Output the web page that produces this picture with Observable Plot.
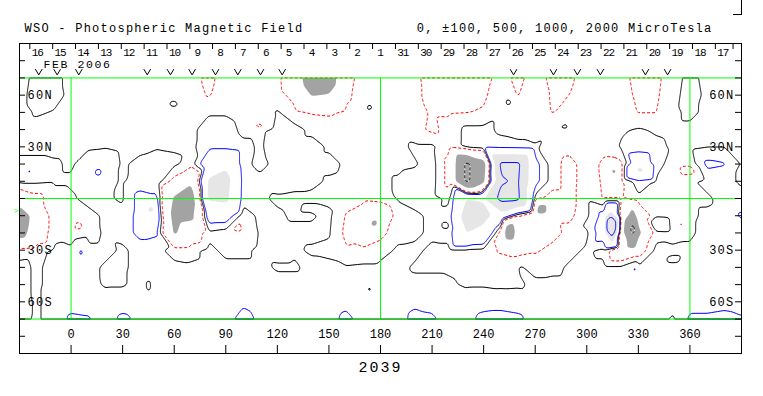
<!DOCTYPE html>
<html><head><meta charset="utf-8">
<script src="https://cdn.jsdelivr.net/npm/d3@7"></script>
<script src="https://cdn.jsdelivr.net/npm/@observablehq/plot@0.6"></script>
<style>
html,body{margin:0;padding:0;background:#fff;}
#wrap{position:relative;width:763px;height:396px;overflow:hidden;}
#wrap svg{display:block;}
.wide text{letter-spacing:1.25px;}
.feb text{letter-spacing:1.6px;}
.days text{letter-spacing:-1.1px;}
.cr text{letter-spacing:2px;}
#corner{position:absolute;left:733px;top:0;width:8px;height:14px;border-right:1px solid #000;border-bottom:1px solid #000;}
</style></head><body><div id="wrap"><div id="corner"></div></div>
<script>
// ---- texts ----
const titleText = "WSO - Photospheric Magnetic Field";
const unitsText = "0, \u00b1100, 500, 1000, 2000 MicroTesla";
const monthText = "FEB 2006";
const rotationText = "2039";

// ---- axes ----
const frameLon = [-30, 390];
const frameLat = [-90, 90];
const lonTicks = [0, 30, 60, 90, 120, 150, 180, 210, 240, 270, 300, 330, 360];
const latTicks = [-80, -70, -60, -50, -40, -30, -20, -10, 0, 10, 20, 30, 40, 50, 60, 70, 80];
const latLabelVals = [60, 30, -30, -60];
const latLabelText = ["60N", "30N", "30S", "60S"];
const greenLats = [70, 0, -70];
const greenLons = [0, 180, 360];
const b0Lat = -7;

// day-of-month strip (label centres, Carrington longitude)
const dayLabels = ["16","15","14","13","12","11","10","9","8","7","6","5","4","3","2","1",
                   "31","30","29","28","27","26","25","24","23","22","21","20","19","18","17"];
const dayLons = [-19.7,-6.4,6.9,20.2,33.5,46.8,60.1,73.4,86.6,99.9,113.2,126.5,139.8,153.1,166.4,179.7,
                 193.0,206.3,219.6,232.9,246.2,259.5,272.7,286.0,299.3,312.6,325.9,339.2,352.5,365.8,379.1];
// observation markers ("v")
const obsLons = [-18.8,-8.1,4.5,44.3,57.8,70.4,84.0,97.0,110.2,122.8,257.4,280.6,294.5,307.9,334.1,347.0];

// ---- field samples (microTesla), rows by latitude, columns by longitude ----
const lons = [-30,-20,-10,0,10,20,30,40,50,60,70,80,90,100,110,120,130,140,150,160,
              170,180,190,200,210,220,230,240,250,260,270,280,290,300,310,320,330,340,350,360,370,380,390];
const lats = [70,60,50,40,30,20,10,0,-10,-20,-30,-40,-50,-60,-70];
const f70 = [-40,30,30,-30,-40,-40,-40,-40,-40,-50, -60,-130,-50,-30,-40,-60,-250,-800,-750,-150,
             -50,-40,-50,-80,-140,-150,-150,-140,-60,-130, -50,-130,-120,-50,-40,-70,-130,-130,-40,30, -30,-40,-40];
const f60 = [-30,40,30,-20,-40,-40,-40,-40,-30,-20, -50,-110,-40,-30,-40,-50,-150,-520,-480,-130,
             -40,-40,-50,-80,-130,-140,-130,-120,-30,-105, -50,-110,-100,-40,-40,-60,-120,-120,-30,40, -20,-30,-30];
const f50 = [-30,10,-5,-30,-40,-40,-40,-40,-30,-20, -40,-10,-10,-40,-40,10,-60,-110,-120,-70,
             -30,-40,-40,-70,-110,-110,-105,-90,-20,-40, -50,-105,-70,-40,-40,-40,-105,-105,-20,20, -20,-30,-30];
const f40 = [-30,-30,-30,-30,-30,-30,-30,-20,-20,-20, -20,40,40,-20,-20,40,30,-20,-30,-20,
             -20,-20,-40,-70,-120,-70,30,30,-20,-40, -40,-10,-10,-30,-30,-10,10,-10,-20,-20, -20,-20,-20];
const f30 = [-20,-20,-20,-20,-10,-5,-20,-20,-5,-10, -20,60,60,20,-10,40,30,30,-10,-20,
             -20,-20,-30,20,20,-60,30,60,40,30, 10,-30,-50,-30,-60,10,40,20,-10,-20, -5,-5,-10];
const f20 = [20,20,10,-10,40,60,-10,20,30,20, -40,250,420,20,-20,20,20,20,20,-10,
             -10,-20,-20,-10,40,-150,-1100,-700,1100,1100, 150,-50,-150,-30,-130,-130,250,40,-40,-60, 130,110,-10];
const f10 = [20,20,10,10,30,30,-10,40,60,-150, -450,550,650,50,20,30,30,20,-10,-20,
             -20,-20,10,40,40,-150,-1100,-600,950,1050, 150,-50,-150,-30,-120,-120,60,-10,-20,-10, 20,20,-10];
const f0 = [-250,-150,-30,-10,20,10,-10,150,120,-550, -700,550,600,40,10,-10,-20,-20,-20,-60,
            -80,-60,10,40,30,-20,500,450,1150,1100, -50,-150,-150,-20,-110,-110,-20,-10,-20,-10, -10,20,20];
const fm10 = [-800,-300,-20,-20,-20,10,20,150,200,-650, -600,200,200,-50,20,10,-10,-10,20,-110,
              -150,-250,-50,-20,20,30,700,650,300,-100, -300,-130,-130,-20,150,-200,-300,-20,-30,-10, 10,20,120];
const fm20 = [-700,-250,-20,-60,-30,10,20,150,120,-550, -250,-20,-50,-80,10,20,20,20,10,-130,
              -200,-150,-20,-20,20,30,500,350,-150,-300, -200,-150,-60,-20,200,-300,-600,-30,-20,-10, 20,20,20];
const fm30 = [-30,-20,10,20,20,20,-10,20,20,-30, -20,20,-20,-20,20,30,10,-10,-20,-90,
              -80,-30,10,20,-20,-20,-20,-30,-120,-150, -120,-60,-20,10,-20,-300,-200,20,10,10, 20,20,20];
const fm40 = [20,-10,20,20,20,-10,-10,20,20,20, 10,20,20,20,20,-10,-10,20,20,10,
              20,20,20,-10,-10,-10,-20,-20,-20,-10, -30,-20,10,20,20,20,20,20,20,20, 20,20,20];
const fm50 = [20,-10,20,30,30,-10,-10,30,30,30, 30,30,30,30,30,30,30,30,30,30,
              30,30,30,20,20,10,-10,-10,-20,-15, 20,20,20,30,30,30,30,30,30,30, 30,30,30];
const fm60 = [30,-10,30,60,60,40,60,50,40,40, 40,40,50,80,50,40,40,40,40,70,
              40,40,50,80,60,40,40,60,70,60, 40,40,40,50,40,40,40,40,30,60, 60,70,60];
const fm70 = [20,-10,30,120,110,60,120,80,50,50, 50,50,60,140,80,50,50,50,60,130,
              60,50,60,130,120,50,70,130,130,120, 60,50,50,105,60,50,50,30,-10,120, 120,130,110];
const fieldRows = [f70,f60,f50,f40,f30,f20,f10,f0,fm10,fm20,fm30,fm40,fm50,fm60,fm70];
// small features between grid nodes: [lon, lat, value]
const spots = [[16,15,130],[-24,16,120],[6,-31,120],[47,-7,650],[87,4,1020],[4,-16,-140],[97,-17,-150],
  [110,41,-120],[177,-14,-650],[255,-18,-850],[273,-7,-850],[316,16,-620],[331,17,620],
  [314,-16,2100],[314,-8,550],[315,-25,600],[327,-18,-1200],[327,-8,-600],[327,-28,-700],
  [340,-15,120],[329,-40,120],[355,-15,-120],[359,17,-170],[60,55,10],[173,52,15],[255,57,15],[288,42,15],
  [138,-5,15],[220,-16,-15],[261,-40,10],[300,-15,20],[350,-36,-10],[45,-52,-10],[173,-52,-10]];

const samples = [];
fieldRows.forEach((row, j) => row.forEach((v, i) => samples.push({lon: lons[i], lat: lats[j], v})));
spots.forEach(([lon, lat, v]) => samples.push({lon, lat, v}));

const LIGHT = "#e6e6e6", DARK = "#a3a3a3", GREEN = "#00ff00";
const cb = {x: "lon", y: "lat", interpolate: "barycentric", x1: -30, x2: 390, y1: -70, y2: 70, pixelSize: 1, blur: 1};
const neg = d => -d.v;

const days = dayLabels.map((t, i) => ({t, lon: dayLons[i]}));
const dayTicks = dayLons.map(l => l - 4.3).concat([dayLons[dayLons.length - 1] + 6]);

// "v" shaped observation marker symbol
const vSymbol = {
  draw(context, size) {
    const r = Math.sqrt(size / Math.PI);
    context.moveTo(-r, -r * 0.85);
    context.lineTo(0, r * 0.85);
    context.lineTo(r, -r * 0.85);
  }
};

const chart = Plot.plot({
  width: 763, height: 396,
  marginTop: 43, marginBottom: 43, marginLeft: 19, marginRight: 22,
  x: {domain: frameLon, axis: null},
  y: {domain: frameLat, axis: null},
  style: {fontFamily: "'Liberation Mono', monospace", fontSize: "12px", background: "#fff", color: "#000", overflow: "visible"},
  marks: [
    Plot.contour(samples, {...cb, value: "v", thresholds: [500], fill: LIGHT, stroke: "none"}),
    Plot.contour(samples, {...cb, value: neg, thresholds: [500], fill: DARK, stroke: "none"}),
    Plot.contour(samples, {...cb, value: neg, thresholds: [1000], fill: "none", stroke: "#fff"}),
    Plot.contour(samples, {...cb, value: neg, thresholds: [1000], fill: "none", stroke: "#000", strokeDasharray: "3,2"}),
    Plot.contour(samples, {...cb, value: neg, thresholds: [100], fill: "none", stroke: "#ff0000", strokeDasharray: "3,2"}),
    Plot.contour(samples, {...cb, value: "v", thresholds: [100, 1000, 2000], fill: "none", stroke: "#0000ff"}),
    Plot.contour(samples, {...cb, value: "v", thresholds: [0], fill: "none", stroke: "#000"}),
    Plot.ruleY(greenLats, {stroke: GREEN}),
    Plot.ruleX(greenLons, {y1: -70, y2: 70, stroke: GREEN}),
    Plot.frame({stroke: "#000"}),
    Plot.tickX(dayTicks, {x: d => d, insetBottom: 304, stroke: "#000"}),
    Plot.tickX(lonTicks, {x: d => d, insetTop: 302, stroke: "#000"}),
    Plot.tickY(latTicks, {y: d => d, insetRight: 716, stroke: "#000"}),
    Plot.tickY(latTicks, {y: d => d, insetLeft: 716, stroke: "#000"}),
    Plot.dot(obsLons, {x: d => d, frameAnchor: "top", dy: 28.5, symbol: vSymbol, r: 3.4, stroke: "#000", fill: "none", strokeWidth: 1}),
    Plot.text([titleText], {text: d => d, frameAnchor: "top-left", dx: 5, dy: -11.5, lineAnchor: "bottom", textAnchor: "start", fontSize: 12, className: "wide"}),
    Plot.text([unitsText], {text: d => d, frameAnchor: "top-right", dx: -29, dy: -11.5, lineAnchor: "bottom", textAnchor: "end", fontSize: 12, className: "wide"}),
    Plot.text([monthText], {text: d => d, frameAnchor: "top-left", dx: 24, dy: 24, lineAnchor: "bottom", textAnchor: "start", fontSize: 11.5, className: "feb"}),
    Plot.text(days, {x: "lon", text: "t", frameAnchor: "top", dy: 4.5, fontSize: 11, className: "days"}),
    Plot.text(latLabelVals, {y: d => d, text: (d, i) => latLabelText[i], frameAnchor: "left", dx: 8, textAnchor: "start", fontSize: 12, className: "wide"}),
    Plot.text(latLabelVals, {y: d => d, text: (d, i) => latLabelText[i], frameAnchor: "right", dx: -7, textAnchor: "end", fontSize: 12, className: "wide"}),
    Plot.text(lonTicks, {x: d => d, text: d => String(d), frameAnchor: "bottom", dy: -15.5, fontSize: 12}),
    Plot.text([rotationText], {text: d => d, frameAnchor: "bottom", dy: 18, lineAnchor: "bottom", fontSize: 15, className: "cr"}),
    Plot.text([b0Lat], {y: d => d, text: () => ">", frameAnchor: "left", dx: -1, textAnchor: "end", fill: GREEN, fontSize: 8})
  ]
});
document.getElementById("wrap").prepend(chart);
</script></body></html>
